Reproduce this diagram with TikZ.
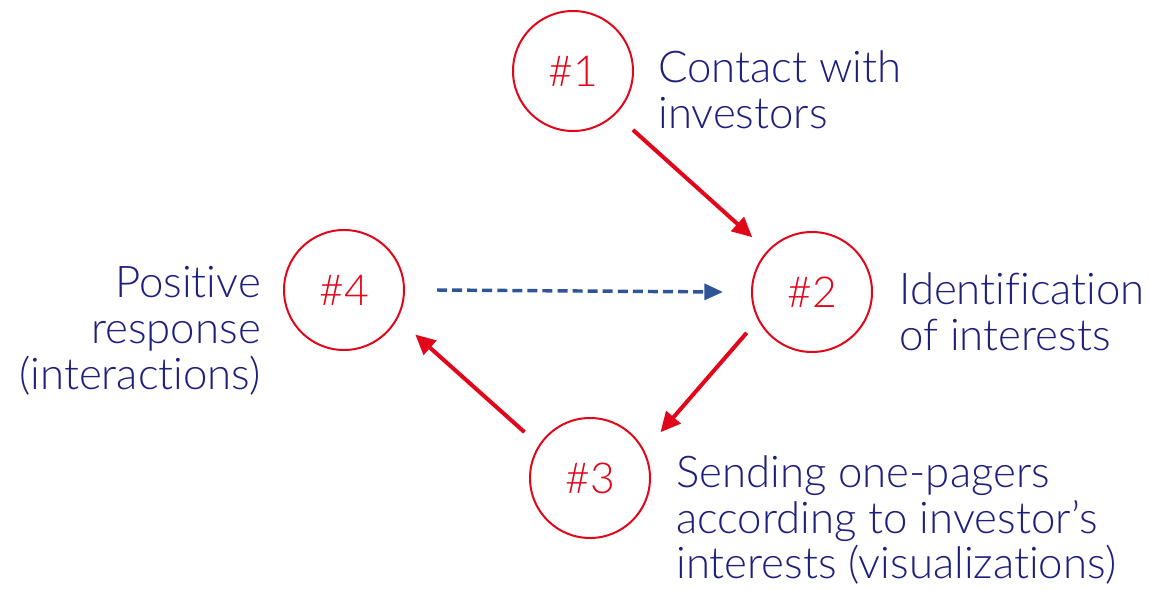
\documentclass[tikz,border=0pt]{standalone}
\usepackage{fontspec}
\setmainfont{Lato}[UprightFont=* Light, Ligatures={NoCommon,NoRare,NoDiscretionary}]
\usetikzlibrary{arrows.meta,calc}
\definecolor{cred}{RGB}{226,6,26}
\definecolor{navy}{RGB}{30,30,125}
\definecolor{dblue}{RGB}{47,85,151}
\tikzset{
  stepcircle/.style={circle, draw=cred, line width=1.5pt, minimum size=90pt, inner sep=0pt,
    text=cred, font=\fontsize{32}{34}\selectfont},
  lbl/.style={text=navy, font=\fontsize{32.8}{34.3}\selectfont, inner sep=0pt},
  redarrow/.style={draw=cred, line width=3pt, -{Triangle[length=15pt,width=14pt]}},
  bluearrow/.style={draw=dblue, line width=2.6pt, dash pattern=on 7.5pt off 3.8pt, -{Triangle[length=14pt,width=12pt]}}
}
\begin{document}
\begin{tikzpicture}[x=0.75pt,y=0.75pt]
\useasboundingbox (0,0) rectangle (1150,-589);
\node[stepcircle] (c1) at (573,-71) {\#1};
\node[stepcircle] (c2) at (812,-292) {\#2};
\node[stepcircle] (c3) at (590,-478) {\#3};
\node[stepcircle] (c4) at (344,-290) {\#4};
\node[lbl, align=left, anchor=west] (l1) at (658,-90) {Contact with\\investors};
\node[lbl, align=left, anchor=west] (l2) at (899,-312) {Identification\\of interests};
\node[lbl, align=right, anchor=east] (l4) at (261,-331) {Positive\\response\\(interactions)};
\node[lbl, align=left, anchor=west] (l3) at (676,-520) {Sending one-pagers\\according to investor’s\\interests (visualizations)};
\draw[redarrow] ($(c1)+(-44.5:84)$) -- ($(c2)+(137.5:81)$);
\draw[redarrow] ($(c2)+(-148:77)$) -- ($(c3)+(33:84)$);
\draw[redarrow] ($(c3)+(145:80)$) -- ($(c4)+(-32:84)$);
\draw[bluearrow] ($(c4)+(0:93)$) -- ($(c2)+(180:89)$);
\end{tikzpicture}
\end{document}
